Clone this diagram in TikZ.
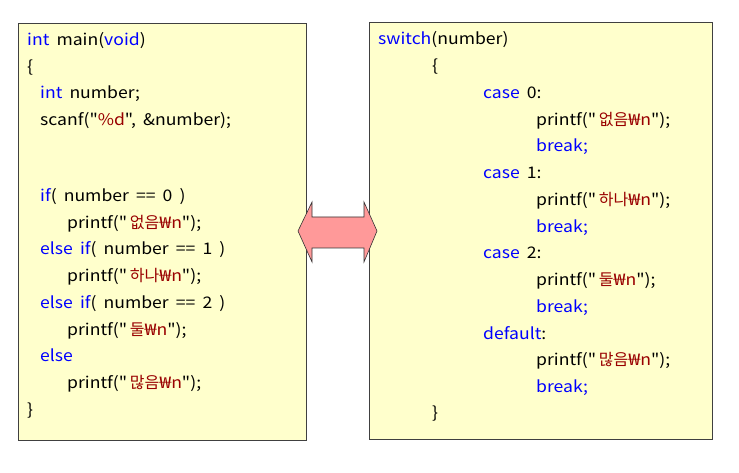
\documentclass[tikz,border=0pt]{standalone}
\usepackage{fontspec}
\setmainfont{Noto Sans CJK KR}[Ligatures=TeXOff,WordSpace=1.8,FakeStretch=1.1]
\newfontfamily\krfont{Noto Sans CJK KR}[Ligatures=TeXOff]
\usetikzlibrary{calc}

\definecolor{kwblue}{RGB}{0,0,255}
\definecolor{strred}{RGB}{153,0,0}
\definecolor{boxyellow}{RGB}{255,255,204}
\definecolor{arrowpink}{RGB}{255,153,153}
\newcommand{\kw}[1]{\textcolor{kwblue}{#1}}
\newcommand{\cs}[1]{\textcolor{strred}{#1}}
\newcommand{\won}{\scalebox{1.35}[1]{₩}}
\newcommand{\ks}[1]{\textcolor{strred}{{\krfont\,#1\won}n}}

\begin{document}
\begin{tikzpicture}[x=1pt,y=-1pt,
		codebox/.style={draw=black!75,fill=boxyellow,line width=0.8pt},
		codeline/.style={anchor=base west,inner sep=0pt,font=\fontsize{16}{18}\selectfont},
		swaparrow/.style={draw=black!80,fill=arrowpink,line width=0.6pt,line join=miter}]
		\useasboundingbox (0,0) rectangle (739,473);
		% the two code panels
		\draw[codebox] (18,23) rectangle (306,440);
		\draw[codebox] (369,22) rectangle (712,439);
		% if / else chain
		\foreach \n/\x/\y/\txt in {
			1/27/40/{\kw{int} main(\kw{void})},
			2/27/67/{\{},
			3/40/93/{\kw{int} number;},
			4/40/120/{scanf("\cs{\%d}", \&number);},
			5/40/196/{\kw{if}( number == 0 )},
			6/67/223/{printf("\ks{없음}");},
			7/40/249/{\kw{else if}( number == 1 )},
			8/67/276/{printf("\ks{하나}");},
			9/40/303/{\kw{else if}( number == 2 )},
			10/67/330/{printf("\ks{둘}");},
			11/40/356/{\kw{else}},
			12/67/383/{printf("\ks{많음}");},
			13/27/410/{\}}}
			\node[codeline] (left\n) at (\x,\y+5.5) {\txt};
		% switch statement
		\foreach \n/\x/\y/\txt in {
			1/378/39.5/{\kw{switch}(number)},
			2/432/66/{\{},
			3/483/93/{\kw{case} 0:},
			4/536/120/{printf("\ks{없음}");},
			5/536/146/{\kw{break;}},
			6/483/173/{\kw{case} 1:},
			7/536/200/{printf("\ks{하나}");},
			8/536/227/{\kw{break;}},
			9/483/253/{\kw{case} 2:},
			10/536/280/{printf("\ks{둘}");},
			11/536/307/{\kw{break;}},
			12/483/334/{\kw{default}:},
			13/536/360/{printf("\ks{많음}");},
			14/536/387/{\kw{break;}},
			15/432/413/{\}}}
			\node[codeline] (right\n) at (\x,\y+5.5) {\txt};
		% double arrow between the panels
		\draw[swaparrow] (298,231) -- (312,202) -- (312,217) -- (364,217) -- (364,202)
			-- (377,231) -- (364,262) -- (364,248) -- (312,248) -- (312,262) -- cycle;
	\end{tikzpicture}
\end{document}
